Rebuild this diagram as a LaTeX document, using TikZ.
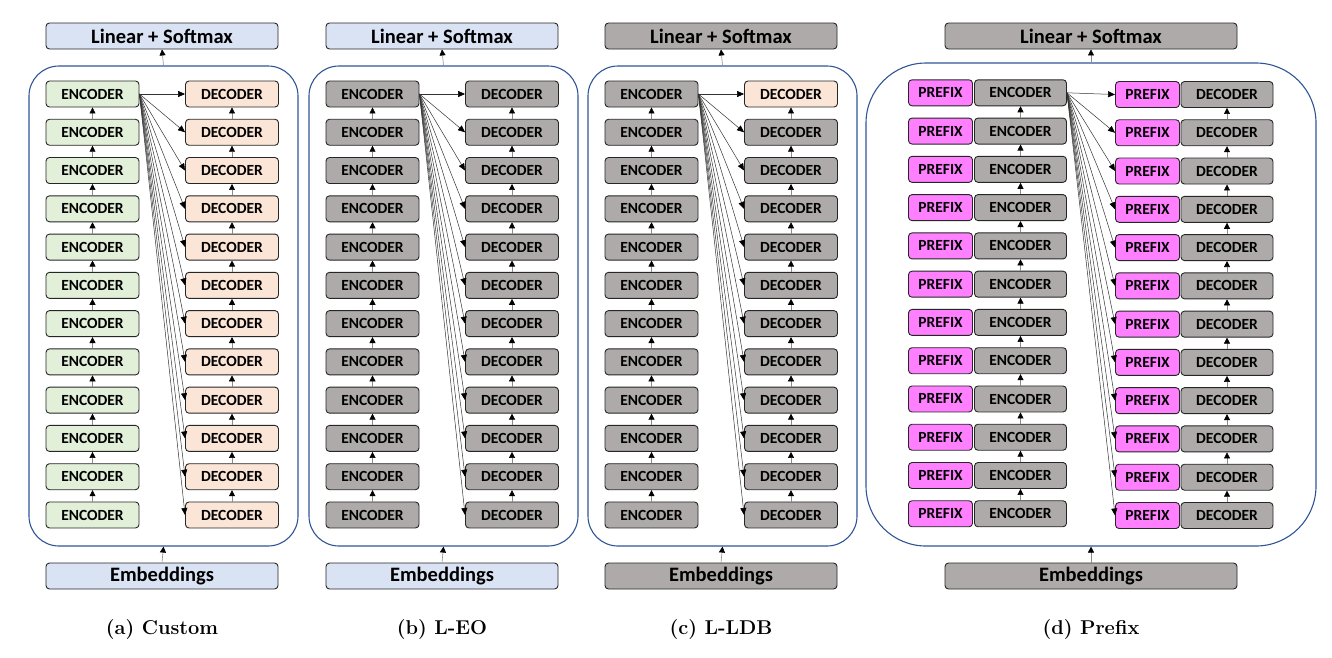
\documentclass[tikz,border=0pt]{standalone}
\usepackage{fontspec}
\newfontfamily\carlito{Carlito}
\usetikzlibrary{arrows.meta}
\definecolor{encg}{HTML}{E2F0D9}
\definecolor{deco}{HTML}{FBE5D6}
\definecolor{blu}{HTML}{DAE3F3}
\definecolor{gry}{HTML}{AEAAAA}
\definecolor{pnk}{HTML}{FF80FF}
\definecolor{framec}{HTML}{2F5597}
\tikzset{
  blk/.style={draw=black!85, rounded corners=3.5pt, line width=0.9pt, minimum height=26pt, inner sep=0pt,
    font=\carlito\bfseries\fontsize{15.5}{15.5}\selectfont},
  encbox/.style={blk, minimum width=93pt},
  prebox/.style={blk, minimum width=64pt, fill=pnk},
  widebox/.style={blk, font=\carlito\bfseries\fontsize{20.5}{20.5}\selectfont},
  outerbox/.style={draw=framec, line width=1.1pt, inner sep=0pt},
  uparr/.style={draw=black!45, line width=0.6pt, -{Triangle[length=6pt,width=6pt,fill=black,color=black]}},
  fanarr/.style={draw=black!80, line width=0.5pt, -{Triangle[length=7pt,width=6pt,fill=black,color=black]}},
  captext/.style={font=\bfseries\fontsize{20}{20}\selectfont, inner sep=0pt}
}
\begin{document}
\begin{tikzpicture}[x=1pt,y=-1pt]
\useasboundingbox (0,0) rectangle (1332,657);
\foreach \p/\dx/\ef/\df/\tf/\lf/\cap in {a/0/encg/deco/deco/blu/(a) Custom, b/280/gry/gry/gry/blu/(b) L-EO, c/559/gry/gry/deco/gry/(c) L-LDB}{
  \node[widebox, fill=\lf, minimum width=232pt] (\p-lin) at ({162+\dx},36) {Linear + Softmax};
  \node[outerbox, rounded corners=30pt, minimum width=269pt, minimum height=480pt] (\p-out) at ({163.5+\dx},306) {};
  \node[widebox, fill=\lf, minimum width=232pt] (\p-emb) at ({162+\dx},576) {Embeddings};
  \node[captext] (\p-cap) at ({162+\dx},629) {\cap};
  \foreach \i in {1,...,12}{
    \node[encbox, fill=\ef] (\p-e\i) at ({92.5+\dx},{94+(\i-1)*38.27}) {ENCODER};
  }
  \node[encbox, fill=\tf] (\p-d1) at ({232+\dx},94) {DECODER};
  \foreach \i in {2,...,12}{
    \node[encbox, fill=\df] (\p-d\i) at ({232+\dx},{94+(\i-1)*38.27}) {DECODER};
  }
  \foreach \i [evaluate=\i as \j using int(\i+1)] in {1,...,11}{
    \draw[uparr] (\p-e\j.north) -- (\p-e\i.south);
    \draw[uparr] (\p-d\j.north) -- (\p-d\i.south);
  }
  \foreach \i in {1,...,12}{
    \draw[fanarr] (\p-e1.east) -- (\p-d\i.west);
  }
  \draw[uparr] (\p-out.north) -- (\p-lin.south);
  \draw[uparr] (\p-emb.north) -- (\p-out.south);
}
% panel d
\node[widebox, fill=gry, minimum width=292pt] (d-lin) at (1091,36) {Linear + Softmax};
\node[outerbox, rounded corners=60pt, minimum width=450pt, minimum height=483pt] (d-out) at (1091,304.5) {};
\node[widebox, fill=gry, minimum width=292pt] (d-emb) at (1091,576) {Embeddings};
\node[captext] (d-cap) at (1091,629) {(d) Prefix};
\foreach \i in {1,...,12}{
  \node[prebox] (d-pe\i) at (940.5,{92.8+(\i-1)*38.27}) {PREFIX};
  \node[blk, minimum width=92pt, fill=gry] (d-e\i) at (1020.5,{92.8+(\i-1)*38.27}) {ENCODER};
  \node[prebox] (d-pd\i) at (1147.5,{94.5+(\i-1)*38.27}) {PREFIX};
  \node[blk, minimum width=92pt, fill=gry] (d-d\i) at (1227,{94.5+(\i-1)*38.27}) {DECODER};
}
\foreach \i [evaluate=\i as \j using int(\i+1)] in {1,...,11}{
  \draw[uparr] (d-e\j.north) -- (d-e\i.south);
  \draw[uparr] (d-d\j.north) -- (d-d\i.south);
}
\foreach \i in {1,...,12}{
  \draw[fanarr] (d-e1.east) -- (d-pd\i.west);
}
\draw[uparr] (d-out.north) -- (d-lin.south);
\draw[uparr] (d-emb.north) -- (d-out.south);
\end{tikzpicture}
\end{document}
